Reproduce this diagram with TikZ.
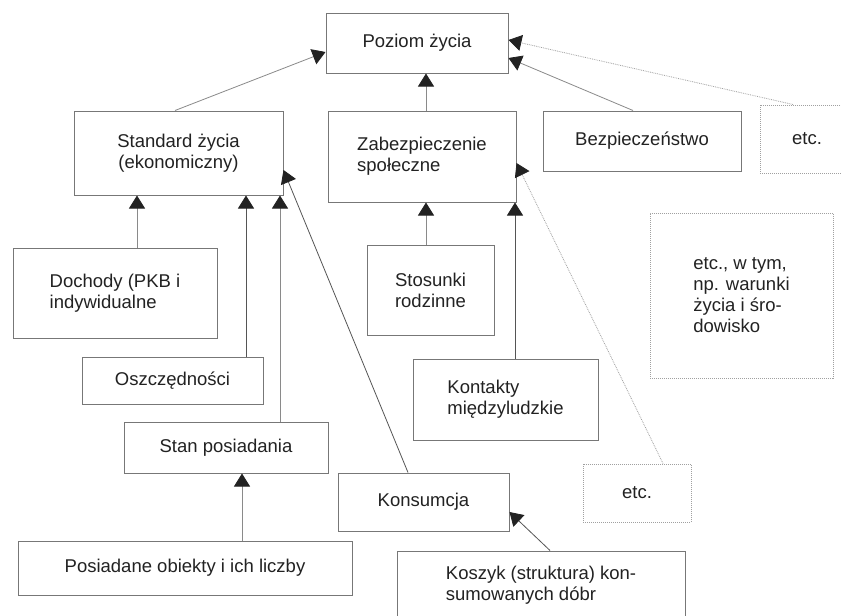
\documentclass[tikz,border=0pt]{standalone}
\usepackage{fontspec}
\setmainfont{Liberation Sans}
\usetikzlibrary{arrows.meta}
\definecolor{boxline}{HTML}{777777}
\definecolor{conline}{HTML}{8A8A8A}
\definecolor{darkline}{HTML}{555555}
\definecolor{dotline}{HTML}{A0A0A0}
\definecolor{txt}{HTML}{222222}
\tikzset{
  box/.style={draw=boxline, line width=1pt, rectangle, inner sep=0pt, text=txt,
    font=\fontsize{18.5}{21}\selectfont},
  dotbox/.style={box, draw=dotline, densely dotted},
  tip/.style={-{Triangle[length=13pt,width=16pt,color=txt]}},
  con/.style={tip, draw=conline, line width=0.8pt},
  dcon/.style={tip, draw=darkline, line width=0.8pt},
  dotcon/.style={tip, draw=dotline, line width=0.8pt, densely dotted},
}
\begin{document}
\begin{tikzpicture}[x=1pt,y=-1pt]
\useasboundingbox (0,0) rectangle (841,616);
\fill[white] (0,0) rectangle (841,616);

\node[box, minimum width=182pt, minimum height=60pt] (poz) at (417,43) {Poziom życia};
\node[box, minimum width=209pt, minimum height=84pt, align=center] (std) at (178.5,153) {Standard życia\\(ekonomiczny)};
\node[box, minimum width=188pt, minimum height=91pt, align=left] (zab) at (422,156.5) {Zabezpieczenie\\społeczne};
\node[box, minimum width=198pt, minimum height=60pt] (bez) at (642,141) {Bezpieczeństwo};
\node[dotbox, minimum width=94pt, minimum height=68pt] (etca) at (807,139) {etc.};
\node[dotbox, minimum width=183pt, minimum height=165pt, align=left] (etcw) at (741.5,295.5) {etc., w tym,\\np. warunki\\życia i śro-\\dowisko};
\node[box, minimum width=204pt, minimum height=90pt, align=left] (doch) at (115,293) {Dochody (PKB i\\indywidualne};
\node[box, minimum width=181pt, minimum height=47pt] (osz) at (172.5,380.5) {Oszczędności};
\node[box, minimum width=204pt, minimum height=51pt] (stan) at (226,447.5) {Stan posiadania};
\node[box, minimum width=334pt, minimum height=54pt] (pos) at (185,568) {Posiadane obiekty i ich liczby};
\node[box, minimum width=171pt, minimum height=58pt] (kons) at (423.5,502) {Konsumcja};
\node[box, minimum width=288pt, minimum height=68pt, align=left] (kosz) at (541,585) {Koszyk (struktura) kon-\\sumowanych dóbr};
\node[box, minimum width=127pt, minimum height=90pt, align=left] (stos) at (430.5,290) {Stosunki\\rodzinne};
\node[box, minimum width=185pt, minimum height=81pt, align=left] (kont) at (505.5,399.5) {Kontakty\\międzyludzkie};
\node[dotbox, minimum width=108pt, minimum height=58pt] (etcb) at (637,493) {etc.};

% connectors to Poziom życia
\draw[con] (175,0 |- std.north) -- (poz.west |- 0,52);
\draw[con] (426,0 |- zab.north) -- (426,0 |- poz.south);
\draw[con] (633,0 |- bez.north) -- (poz.east |- 0,58);
\draw[dotcon] (793,0 |- etca.north) -- (poz.east |- 0,40);

% connectors to Standard życia
\draw[con] (137,0 |- doch.north) -- (137,0 |- std.south);
\draw[dcon] (246,0 |- osz.north) -- (246,0 |- std.south);
\draw[con] (280,0 |- stan.north) -- (280,0 |- std.south);
\draw[dcon] (408,0 |- kons.north) -- (std.east |- 0,170);

% connectors to Zabezpieczenie
\draw[con] (426,0 |- stos.north) -- (426,0 |- zab.south);
\draw[dcon] (515,0 |- kont.north) -- (515,0 |- zab.south);
\draw[dotcon] (663,0 |- etcb.north) -- (zab.east |- 0,163);

% lower
\draw[con] (242,0 |- pos.north) -- (242,0 |- stan.south);
\draw[dcon] (550,0 |- kosz.north) -- (kons.east |- 0,512);
\end{tikzpicture}
\end{document}
